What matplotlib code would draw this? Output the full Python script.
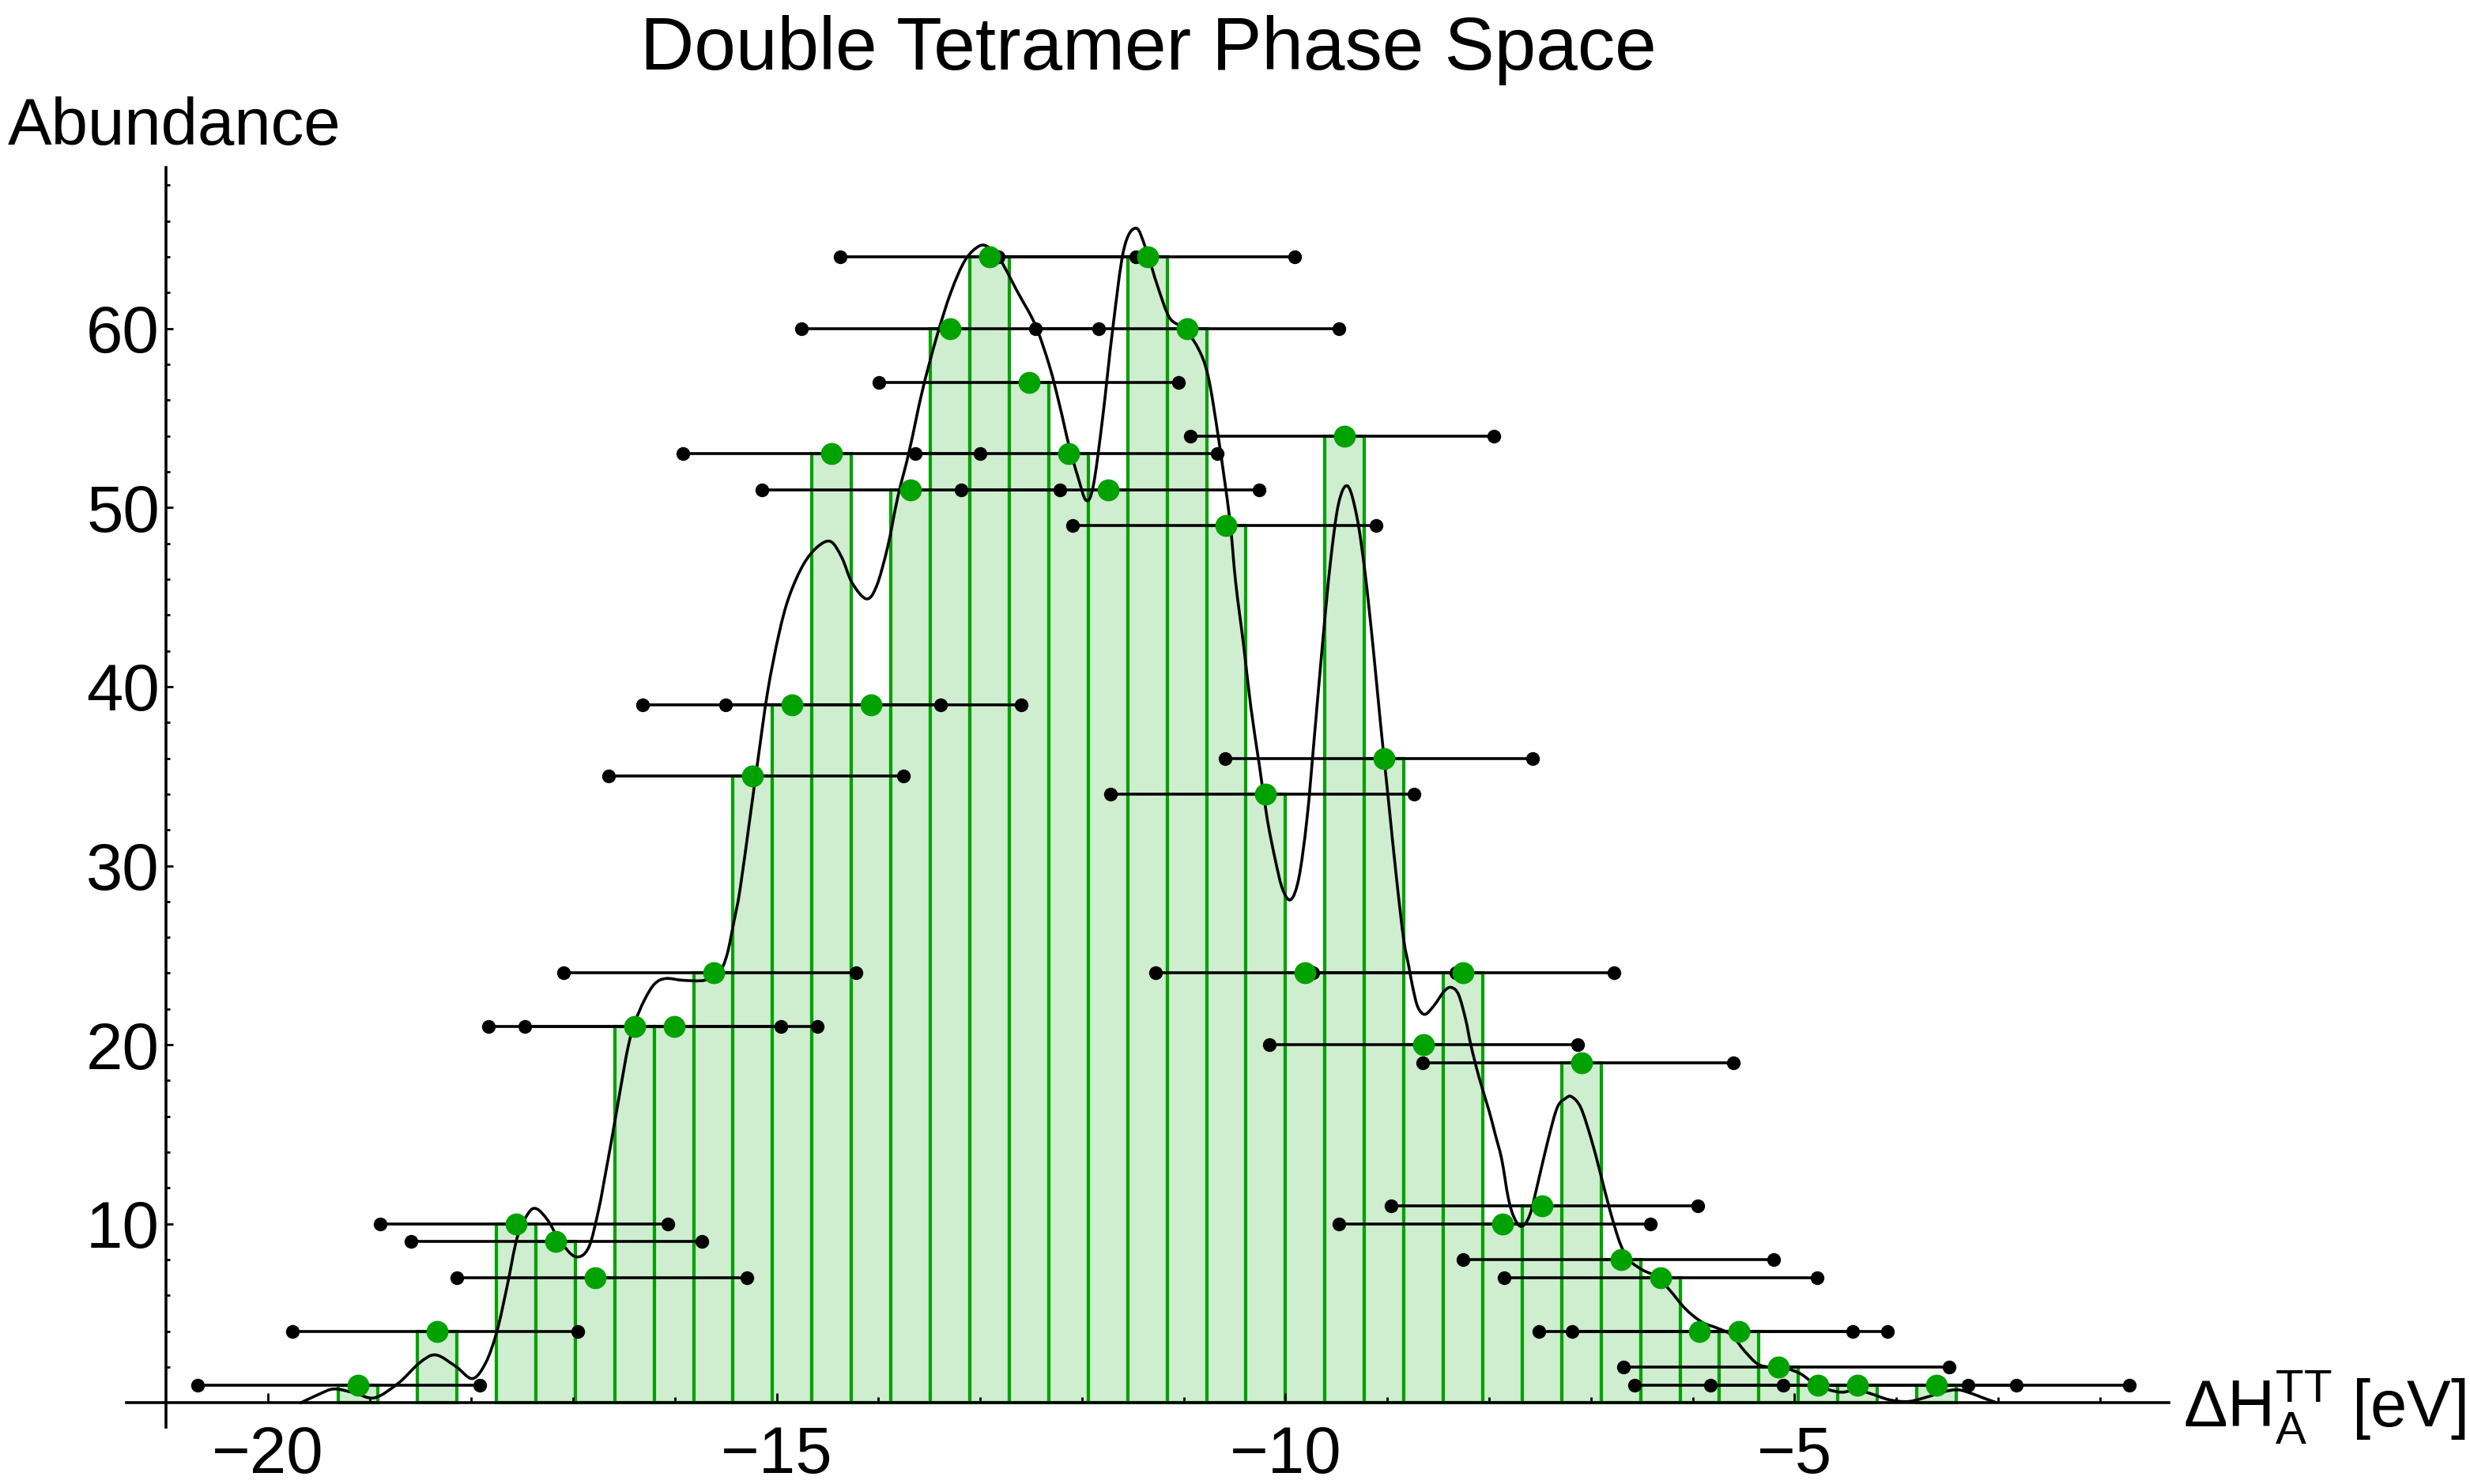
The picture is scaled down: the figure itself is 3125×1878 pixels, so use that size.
import numpy as np
import matplotlib
matplotlib.use('Agg')
import matplotlib.pyplot as plt
from matplotlib.ticker import FixedLocator
from matplotlib.path import Path
from matplotlib.patches import PathPatch

plt.rcParams['font.family'] = ['Liberation Sans', 'DejaVu Sans']
plt.rcParams['mathtext.fontset'] = 'custom'
plt.rcParams['mathtext.rm'] = 'Liberation Sans'
plt.rcParams['mathtext.it'] = 'Liberation Sans:italic'
plt.rcParams['mathtext.bf'] = 'Liberation Sans:bold'

# ---------------- data ----------------
bin_start = -19.306
bin_width = 0.3877
counts = [1, 0, 4, 0, 10, 9, 7, 21, 21, 24, 35, 39, 53, 39, 51, 60, 64, 57, 53, 51,
          64, 60, 49, 34, 24, 54, 36, 20, 24, 10, 11, 19, 8, 7, 4, 4, 2, 1, 1, 0, 1]

# horizontal error bars (low / high ends) for the non-empty bins, in bin order
err_low = [-20.694, -19.762, -18.898, -18.597, -18.143, -17.831, -17.477, -17.096,
           -16.65, -16.32, -15.92, -15.504, -15.148, -14.760, -14.379, -13.995,
           -13.635, -13.192, -12.82, -12.458, -12.095, -11.72, -11.274, -10.935,
           -10.596, -10.157, -9.73, -9.472, -8.96, -8.65, -8.26, -7.850, -7.514,
           -7.182, -6.683, -6.572, -5.822, -5.107]
err_high = [-17.917, -16.952, -16.067, -15.738, -15.295, -14.958, -14.602, -14.220,
            -13.756, -13.393, -13.002, -12.597, -12.216, -11.835, -11.472, -11.056,
            -10.675, -10.260, -9.908, -9.475, -9.108, -8.738, -8.33, -7.953,
            -7.575, -7.127, -6.774, -6.415, -5.947, -5.599, -5.206, -4.773, -4.431,
            -4.083, -3.476, -3.292, -2.820, -1.710]

# smooth density curve
curve_x = [-19.68, -19.50, -19.35, -19.15, -18.95, -18.71, -18.51, -18.35, -18.15, -17.99,
           -17.86, -17.75, -17.65, -17.55, -17.44, -17.36, -17.25, -17.13, -16.98, -16.85,
           -16.75, -16.68, -16.61, -16.54, -16.46, -16.39, -16.30, -16.20, -16.09, -15.92,
           -15.71, -15.57, -15.49, -15.42, -15.36, -15.26, -15.19, -15.09, -14.98, -14.88,
           -14.74, -14.60, -14.47, -14.36, -14.26, -14.12, -14.02, -13.91, -13.81, -13.70,
           -13.57, -13.43, -13.29, -13.15, -13.01, -12.91, -12.80, -12.63, -12.46, -12.32,
           -12.22, -12.13, -12.04, -11.96, -11.89, -11.80, -11.70, -11.59, -11.47, -11.37,
           -11.26, -11.14, -11.00, -10.86, -10.76, -10.66, -10.55, -10.49, -10.41, -10.34,
           -10.26, -10.18, -10.10, -10.03, -9.95, -9.87, -9.79, -9.72, -9.64, -9.56,
           -9.48, -9.39, -9.30, -9.22, -9.14, -9.07, -8.99, -8.91, -8.84, -8.79,
           -8.75, -8.70, -8.63, -8.54, -8.44, -8.37, -8.30, -8.23, -8.18, -8.10,
           -8.00, -7.94, -7.876, -7.81, -7.75, -7.68, -7.60, -7.52, -7.42, -7.33,
           -7.25, -7.19, -7.10, -7.00, -6.91, -6.81, -6.71, -6.62, -6.49, -6.36,
           -6.23, -6.07, -5.91, -5.75, -5.62, -5.49, -5.36, -5.23, -5.07, -4.94,
           -4.81, -4.67, -4.53, -4.39, -4.23, -4.07, -3.88, -3.68, -3.52, -3.39,
           -3.26, -3.14, -3.02]
curve_y = [0.0, 0.48, 0.78, 0.56, 0.29, 1.14, 2.24, 2.68, 2.02, 1.36,
           2.24, 3.99, 6.5, 9.24, 10.6, 10.84, 10.2, 9.05, 8.17, 8.66,
           10.8, 12.9, 15.1, 17.4, 19.9, 21.3, 22.5, 23.4, 23.7, 23.6,
           23.6, 24.0, 25.0, 26.9, 28.7, 32.8, 35.7, 39.7, 42.9, 45.0,
           46.8, 47.8, 48.1, 47.2, 45.8, 44.9, 45.6, 47.8, 50.6, 53.1,
           56.5, 59.5, 62.0, 63.8, 64.6, 64.5, 63.8, 62.0, 60.2, 57.9,
           55.7, 53.5, 51.7, 50.4, 51.2, 54.9, 59.9, 64.4, 65.6, 64.4,
           62.4, 60.6, 60.0, 58.9, 57.3, 53.9, 49.4, 45.8, 42.2, 38.8,
           35.7, 32.6, 30.3, 28.7, 28.1, 29.3, 32.6, 37.0, 42.2, 46.9,
           50.2, 51.2, 49.5, 46.4, 42.2, 38.1, 33.7, 29.3, 25.9, 24.4,
           23.2, 22.1, 21.7, 22.2, 23.0, 23.2, 22.8, 21.4, 20.0, 18.2,
           16.3, 15.0, 13.6, 11.4, 10.3, 9.86, 10.5, 12.3, 14.7, 16.5,
           17.0, 17.1, 16.5, 14.8, 12.9, 10.7, 8.87, 7.96, 7.42, 7.06,
           6.33, 5.25, 4.52, 4.16, 3.80, 2.90, 2.17, 1.99, 1.90, 1.63,
           1.10, 0.75, 0.60, 0.73, 0.48, 0.18, 0.08, 0.36, 0.64, 0.73,
           0.53, 0.27, 0.03]

x_major = [-20, -15, -10, -5]
x_minor = [-19, -18, -17, -16, -14, -13, -12, -11, -9, -8, -7, -6, -4, -3, -2]
y_major = [10, 20, 30, 40, 50, 60]
y_minor = [2, 4, 6, 8, 12, 14, 16, 18, 22, 24, 26, 28, 32, 34, 36, 38,
           42, 44, 46, 48, 52, 54, 56, 58, 62, 64, 66, 68]

# ---------------- styles ----------------
FILL = '#CFEDCF'
GREEN = '#00A200'

counts_a = np.array(counts, dtype=float)
edges = bin_start + bin_width * np.arange(len(counts))
nz = counts_a > 0
left_edges = edges[nz]
heights = counts_a[nz]
centers = left_edges + bin_width / 2

fig = plt.figure(figsize=(31.25, 18.78), dpi=100)
ax = fig.add_axes([0.0512, 0.03834, 0.8269, 0.84896])

ax.bar(left_edges, heights, width=bin_width, align='edge', color=FILL,
       edgecolor=GREEN, linewidth=3.0, zorder=1)


def smooth_path(xs, ys):
    """Draw the read-off points as a smooth Bezier path (Catmull-Rom handles)."""
    P = np.column_stack([xs, ys]).astype(float)
    verts = [P[0]]
    codes = [Path.MOVETO]
    n = len(P)
    for i in range(n - 1):
        p0 = P[i - 1] if i > 0 else P[i]
        p1 = P[i]
        p2 = P[i + 1]
        p3 = P[i + 2] if i + 2 < n else P[i + 1]
        c1 = p1 + (p2 - p0) / 6.0
        c2 = p2 - (p3 - p1) / 6.0
        verts += [c1, c2, p2]
        codes += [Path.CURVE4] * 3
    return Path(verts, codes)


ax.add_patch(PathPatch(smooth_path(curve_x, curve_y), fill=False, edgecolor='black',
                       lw=2.6, zorder=2, joinstyle='round', capstyle='round'))
ax.hlines(heights, err_low, err_high, color='black', lw=2.6, zorder=3)
ax.plot(list(err_low) + list(err_high), list(heights) + list(heights), 'o',
        color='black', ms=11.5, linestyle='none', zorder=4)
ax.plot(centers, heights, 'o', color=GREEN, ms=19, linestyle='none', zorder=5)

ax.set_xlim(-21.39, -1.32)
ax.set_ylim(-1.35, 69.0)
for s in ['top', 'right']:
    ax.spines[s].set_visible(False)
ax.spines['left'].set_position(('data', -21))
ax.spines['bottom'].set_position(('data', 0))
for s in ['left', 'bottom']:
    ax.spines[s].set_linewidth(2.6)
    ax.spines[s].set_zorder(2.5)

ax.xaxis.set_major_locator(FixedLocator(x_major))
ax.xaxis.set_minor_locator(FixedLocator(x_minor))
ax.yaxis.set_major_locator(FixedLocator(y_major))
ax.yaxis.set_minor_locator(FixedLocator(y_minor))
ax.set_xticklabels([f'\u2212{abs(v)}' for v in x_major])
ax.set_yticklabels([str(v) for v in y_major])

ax.tick_params(axis='both', which='both', direction='in', color='black')
ax.tick_params(axis='x', which='major', length=8.5, width=2, labelsize=60, pad=20)
ax.tick_params(axis='x', which='minor', length=4.7, width=2)
ax.tick_params(axis='y', which='major', length=6.5, width=2, labelsize=60, pad=6)
ax.tick_params(axis='y', which='minor', length=3.8, width=2)

fig.text(1453 / 3125, 1 - 88 / 1878, 'Double Tetramer Phase Space',
         ha='center', va='baseline', fontsize=68)
fig.text(10 / 3125, 1 - 183 / 1878, 'Abundance', ha='left', va='baseline', fontsize=60)
fig.text(2762 / 3125, 1 - 1806 / 1878,
         r'$\mathrm{\Delta H}_{\mathrm{A}}^{\mathrm{TT}}$ [eV]',
         ha='left', va='baseline', fontsize=60)

fig.savefig('out.png', dpi=100)
